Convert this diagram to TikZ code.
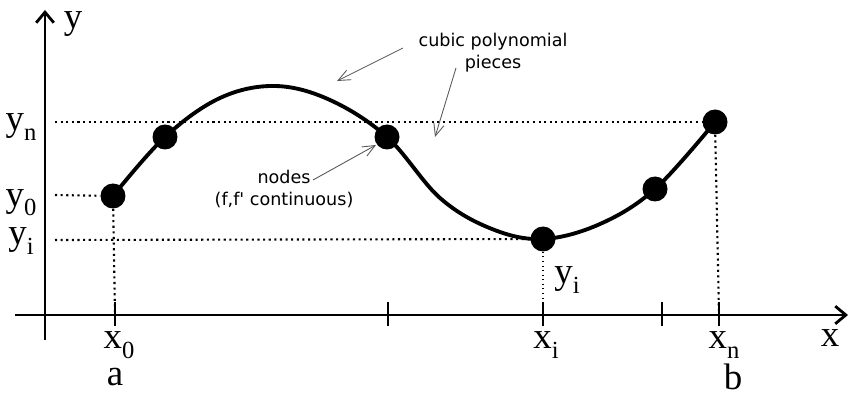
\documentclass[tikz,border=0pt]{standalone}
\usepackage{fontspec}
\setmainfont{Liberation Serif}
\newfontfamily\notefont{DejaVu Sans}
\usetikzlibrary{arrows.meta}
\tikzset{
  knot/.style={circle,fill=black,inner sep=0pt,minimum size=0.5cm},
  axis/.style={line width=1.6pt,-{Straight Barb[length=6pt,width=10pt,line width=1.6pt]}},
  guide/.style={line width=1.2pt,dotted},
  note/.style={align=center,font=\notefont\fontsize{10}{12.5}\selectfont},
  pointer/.style={gray!70!black,line width=0.5pt,-{Straight Barb[length=7pt,width=6pt]}},
  lab/.style={font=\fontsize{21}{22}\selectfont,inner sep=0pt}
}
\newcommand{\idx}[2]{#1\raisebox{-0.55ex}{\fontsize{14}{14}\selectfont #2}}
\begin{document}
\begin{tikzpicture}[x=0.02cm,y=-0.02cm]
    \useasboundingbox (0,0) rectangle (848,394);
    % Draw axes
    \coordinate (ybot) at (45,340);
    \coordinate (ytop) at (45,10);
    \coordinate (xleft) at (15,315);
    \coordinate (xright) at (848,315);
    \draw[axis] (ybot) -- (ytop);
    \draw[axis] (xleft) -- (xright);
    \node[lab] (ylab) at (73,24) {y};
    \node[lab] (xlab) at (830,338) {x};

    % Ticks on the x axis
    \foreach \t/\x in {t0/115,t1/388,ti/543,t4/662,tn/719} {
        \coordinate (\t) at (\x,315);
        \draw[line width=1.6pt] (\x,302) -- (\x,326);
    }

    % Nodes of the spline
    \coordinate (c1) at (220,98);
    \coordinate (c2) at (275,86);
    \coordinate (c3) at (330,100);
    \coordinate (c4) at (440,198);
    \coordinate (c5) at (492,229);
    \coordinate (c6) at (600,224);
    \node[knot] (p0) at (113,196) {};
    \node[knot] (p1) at (165,137) {};
    \node[knot] (p2) at (387,137) {};
    \node[knot] (pi) at (543,239) {};
    \node[knot] (p4) at (655,189) {};
    \node[knot] (pn) at (715,122) {};

    % Draw the spline curve
    \draw[line width=2.2pt,line cap=round] plot[smooth,tension=0.6] coordinates
        {(p0.center) (p1.center) (c1) (c2) (c3) (p2.center) (c4) (c5) (pi.center) (c6) (p4.center) (pn.center)};

    % Dotted guide lines
    \coordinate (gn) at (55,122);
    \coordinate (g0) at (55,195);
    \coordinate (gi) at (55,240);
    \draw[guide] (gn) -- (pn);
    \draw[guide] (g0) -- (p0);
    \draw[guide] (gi) -- (pi);
    \draw[guide] (p0) -- (t0);
    \draw[guide] (pn) -- (tn);
    \draw[dotted,line width=0.6pt] (pi) -- (ti);

    % Labels on the axes
    \node[lab] (y0) at (21,203) {\idx{y}{0}};
    \node[lab] (yn) at (21,127) {\idx{y}{n}};
    \node[lab] (yi) at (21,241) {\idx{y}{i}};
    \node[lab] (yib) at (567,280) {\idx{y}{i}};
    \node[lab] (x0) at (119,345) {\idx{x}{0}};
    \node[lab] (xi) at (546,345) {\idx{x}{i}};
    \node[lab] (xn) at (724,345) {\idx{x}{n}};
    \node[lab] (a) at (115,377) {a};
    \node[lab] (b) at (733,377) {b};

    % Add annotations
    \node[note] (pieces) at (493,53) {cubic polynomial\\pieces};
    \node[note] (nodes) at (284,189) {nodes\\(f,f' continuous)};
    \coordinate (arr1) at (403,48);
    \coordinate (arr2) at (456,68);
    \coordinate (arr3) at (313,180);
    \coordinate (tip1) at (337,81);
    \coordinate (tip2) at (435,137);
    \coordinate (tip3) at (376,145);
    \draw[pointer] (arr1) -- (tip1);
    \draw[pointer] (arr2) -- (tip2);
    \draw[pointer] (arr3) -- (tip3);
\end{tikzpicture}
\end{document}
